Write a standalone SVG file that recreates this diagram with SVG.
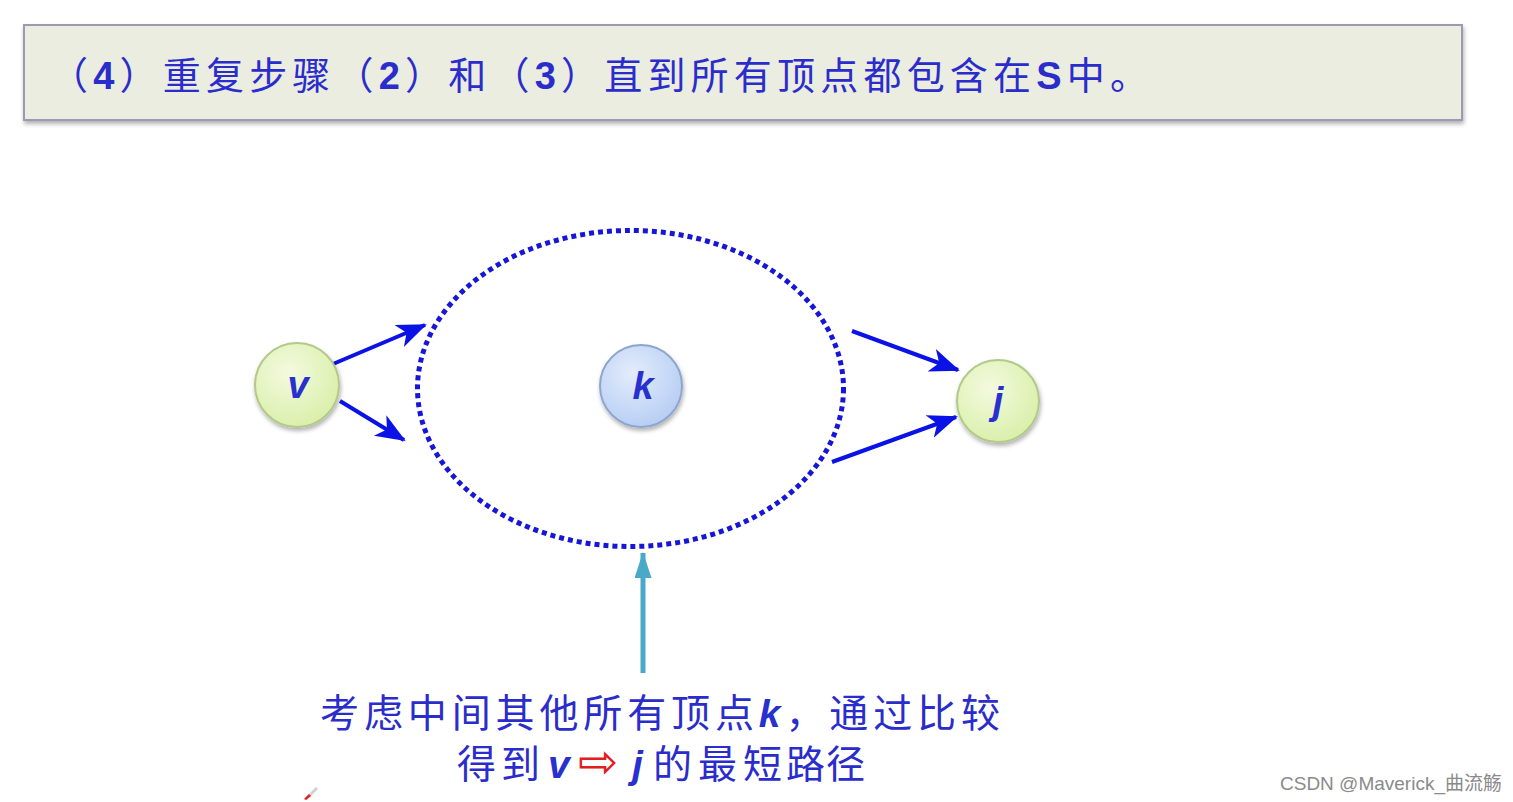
<svg xmlns="http://www.w3.org/2000/svg" width="1513" height="802" viewBox="0 0 1513 802">
<defs>
<style>
.cjk{font-family:"Liberation Sans","Noto Sans CJK SC",sans-serif;fill:#2a2ccc}
.lat{font-family:"Liberation Sans","Noto Sans CJK SC",sans-serif;font-weight:bold;font-style:italic;fill:#2830d0}
.edge{stroke:#0a12e6;stroke-width:4;fill:none;marker-end:url(#ah)}
</style>
<marker id="ah" markerWidth="8" markerHeight="8" refX="7" refY="4" orient="auto" markerUnits="strokeWidth">
<path d="M0,1 L7.5,4 L0,7 L2,4 Z" fill="#0a12e6"/>
</marker>
<marker id="ah2" markerWidth="6" markerHeight="4" refX="5" refY="1.7" orient="auto" markerUnits="strokeWidth">
<path d="M0,0 L5.2,1.7 L0,3.4 Z" fill="#4aa8c8"/>
</marker>
<radialGradient id="gG" cx="40%" cy="35%" r="70%">
<stop offset="0" stop-color="#f3fadf"/><stop offset="1" stop-color="#d9efa8"/>
</radialGradient>
<radialGradient id="gB" cx="40%" cy="35%" r="70%">
<stop offset="0" stop-color="#e3ecfc"/><stop offset="1" stop-color="#b5cdf3"/>
</radialGradient>
<filter id="sh" x="-10%" y="-10%" width="120%" height="130%">
<feDropShadow dx="1" dy="3" stdDeviation="2" flood-color="#000" flood-opacity="0.3"/>
</filter>
</defs>
<rect width="1513" height="802" fill="#ffffff"/>
<g id="header">
<rect x="24" y="25" width="1438" height="95" fill="#eaeddf" stroke="#9c99b3" stroke-width="2" filter="url(#sh)"/>
<text x="50" y="89" font-size="38" class="cjk" textLength="1098" lengthAdjust="spacing">（<tspan font-weight="bold">4</tspan>）重复步骤（<tspan font-weight="bold">2</tspan>）和（<tspan font-weight="bold">3</tspan>）直到所有顶点都包含在<tspan font-weight="bold">S</tspan>中。</text>
</g>
<g id="set">
<ellipse cx="630.5" cy="388.5" rx="213" ry="158" fill="none" stroke="#1616d8" stroke-width="5" stroke-dasharray="5 4"/>
</g>
<g id="connectors">
<line class="edge" x1="333" y1="364" x2="425" y2="325"/>
<line class="edge" x1="340" y1="401" x2="404" y2="440"/>
<line class="edge" x1="852" y1="331" x2="958" y2="370"/>
<line class="edge" x1="832" y1="462" x2="956" y2="417"/>
<line x1="643" y1="673" x2="643" y2="553" stroke="#4aa8c8" stroke-width="5" marker-end="url(#ah2)"/>
</g>
<g id="node-v">
<circle cx="297" cy="385" r="42" fill="url(#gG)" stroke="#b2c98a" stroke-width="2" filter="url(#sh)"/>
<text x="298" y="398" font-size="38" text-anchor="middle" class="lat">v</text>
</g>
<g id="node-k">
<circle cx="641" cy="386" r="41" fill="url(#gB)" stroke="#8da6cf" stroke-width="2" filter="url(#sh)"/>
<text x="643" y="399" font-size="38" text-anchor="middle" class="lat">k</text>
</g>
<g id="node-j">
<circle cx="998" cy="401" r="41" fill="url(#gG)" stroke="#b2c98a" stroke-width="2" filter="url(#sh)"/>
<text x="998" y="414" font-size="38" text-anchor="middle" class="lat">j</text>
</g>
<g id="caption">
<text x="320" y="727" font-size="39" class="cjk" textLength="680" lengthAdjust="spacing">考虑中间其他所有顶点<tspan class="lat">k</tspan>，通过比较</text>
<text y="778" font-size="39" class="cjk"><tspan x="457">得</tspan><tspan x="501">到</tspan><tspan x="548" class="lat">v</tspan><tspan x="578" font-size="48" style="fill:#e02020;font-family:'DejaVu Sans',sans-serif">⇨</tspan><tspan x="632" class="lat">j</tspan><tspan x="653">的</tspan><tspan x="698">最</tspan><tspan x="743">短</tspan><tspan x="786">路</tspan><tspan x="826">径</tspan></text>
</g>
<g id="cursor">
<path d="M305,798 L312,791 L316,787 L318,789 L314,793 L307,800 Z" fill="#d0d0d0"/>
<path d="M304,799 L309,794 L311,796 L306,800 Z" fill="#e02020"/>
</g>
<text x="1280" y="790" font-size="19" font-family="'Liberation Sans','Noto Sans CJK SC',sans-serif" fill="#8a8a8a">CSDN @Maverick_曲流觞</text>
</svg>
